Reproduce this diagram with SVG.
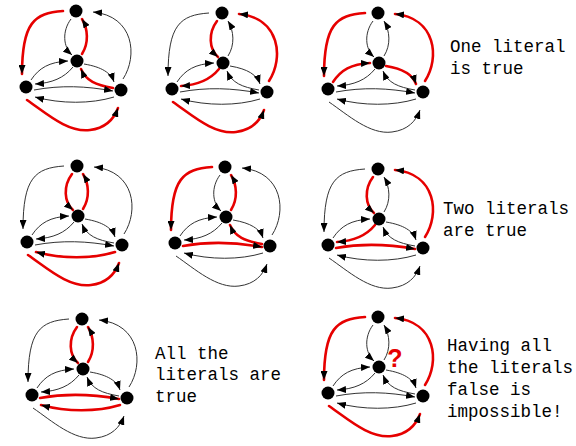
<svg xmlns="http://www.w3.org/2000/svg" width="576" height="446" viewBox="0 0 576 446">
<style>
.e{fill:none;stroke:#333;stroke-width:1;marker-end:url(#ah)}
.r{fill:none;stroke:#e60000;stroke-width:2.6;stroke-linecap:round;marker-end:url(#ah)}
.n{fill:#000}
.t{font-family:"Liberation Mono","Courier New",monospace;font-size:17.5px;fill:#000}
.q{font-family:"Liberation Sans",Arial,sans-serif;font-size:25px;font-weight:bold;fill:#e60000}
</style>
<defs>
<marker id="ah" markerUnits="userSpaceOnUse" markerWidth="9" markerHeight="7" refX="9" refY="3.5" orient="auto">
<path d="M0,0 L9,3.5 L0,7 z" fill="#000"/>
</marker>
</defs>
<rect width="576" height="446" fill="#fff"/>

<!-- Graph 1 -->
<g id="graph1" transform="translate(76,11)">
<g id="g1-edges">
<path class="r" d="M -13,0 C -42,2 -54,12 -54,63"/>
<path class="e" d="M 47,68 C 62,45 58,5 17,1"/>
<path class="e" d="M -5,8 C -14,20 -13,36 -4,44"/>
<path class="r" d="M 6,43 C 13,32 12,18 6,8"/>
<path class="e" d="M -45,69 C -37,57 -27,51 -8,50"/>
<path class="e" d="M -3,56 C -12,67 -24,72 -41,73"/>
<path class="e" d="M 8,53 C 26,56 35,62 38,71"/>
<path class="r" d="M 37,77 C 20,74 10,70 5,58"/>
<path class="e" d="M -42,79 C -15,74 10,75 37,80"/>
<path class="e" d="M 38,86 C 15,93 -15,93 -41,86"/>
<path class="r" d="M -49,89 C -30,102 -8,122 14,119 C 30,117 38,108 42,97"/>
</g>
<g id="g1-T"><circle class="n" cx="0" cy="0" r="6.5"/></g>
<g id="g1-C"><circle class="n" cx="1" cy="50" r="6.5"/></g>
<g id="g1-BL"><circle class="n" cx="-50" cy="76" r="6.5"/></g>
<g id="g1-BR"><circle class="n" cx="45" cy="79" r="6.5"/></g>
</g>

<!-- Graph 2 -->
<g id="graph2" transform="translate(222,13)">
<g id="g2-edges">
<path class="e" d="M -13,0 C -42,2 -54,12 -54,63"/>
<path class="r" d="M 47,68 C 62,45 58,5 17,1"/>
<path class="r" d="M -5,8 C -14,20 -13,36 -4,44"/>
<path class="e" d="M 6,43 C 13,32 12,18 6,8"/>
<path class="e" d="M -45,69 C -37,57 -27,51 -8,50"/>
<path class="r" d="M -3,56 C -12,67 -24,72 -41,73"/>
<path class="e" d="M 8,53 C 26,56 35,62 38,71"/>
<path class="e" d="M 37,77 C 20,74 10,70 5,58"/>
<path class="e" d="M -42,79 C -15,74 10,75 37,80"/>
<path class="e" d="M 38,86 C 15,93 -15,93 -41,86"/>
<path class="r" d="M -49,89 C -30,102 -8,122 14,119 C 30,117 38,108 42,97"/>
</g>
<g id="g2-T"><circle class="n" cx="0" cy="0" r="6.5"/></g>
<g id="g2-C"><circle class="n" cx="1" cy="50" r="6.5"/></g>
<g id="g2-BL"><circle class="n" cx="-50" cy="76" r="6.5"/></g>
<g id="g2-BR"><circle class="n" cx="45" cy="79" r="6.5"/></g>
</g>

<!-- Graph 3 -->
<g id="graph3" transform="translate(378,13)">
<g id="g3-edges">
<path class="r" d="M -13,0 C -42,2 -54,12 -54,63"/>
<path class="r" d="M 47,68 C 62,45 58,5 17,1"/>
<path class="e" d="M -5,8 C -14,20 -13,36 -4,44"/>
<path class="e" d="M 6,43 C 13,32 12,18 6,8"/>
<path class="r" d="M -45,69 C -37,57 -27,51 -8,50"/>
<path class="e" d="M -3,56 C -12,67 -24,72 -41,73"/>
<path class="r" d="M 8,53 C 26,56 35,62 38,71"/>
<path class="e" d="M 37,77 C 20,74 10,70 5,58"/>
<path class="e" d="M -42,79 C -15,74 10,75 37,80"/>
<path class="e" d="M 38,86 C 15,93 -15,93 -41,86"/>
<path class="e" d="M -49,89 C -30,102 -8,122 14,119 C 30,117 38,108 42,97"/>
</g>
<g id="g3-T"><circle class="n" cx="0" cy="0" r="6.5"/></g>
<g id="g3-C"><circle class="n" cx="1" cy="50" r="6.5"/></g>
<g id="g3-BL"><circle class="n" cx="-50" cy="76" r="6.5"/></g>
<g id="g3-BR"><circle class="n" cx="45" cy="79" r="6.5"/></g>
</g>

<!-- Graph 4 -->
<g id="graph4" transform="translate(77,166)">
<g id="g4-edges">
<path class="e" d="M -13,0 C -42,2 -54,12 -54,63"/>
<path class="e" d="M 47,68 C 62,45 58,5 17,1"/>
<path class="r" d="M -5,8 C -14,20 -13,36 -4,44"/>
<path class="r" d="M 6,43 C 13,32 12,18 6,8"/>
<path class="e" d="M -45,69 C -37,57 -27,51 -8,50"/>
<path class="e" d="M -3,56 C -12,67 -24,72 -41,73"/>
<path class="e" d="M 8,53 C 26,56 35,62 38,71"/>
<path class="e" d="M 37,77 C 20,74 10,70 5,58"/>
<path class="e" d="M -42,79 C -15,74 10,75 37,80"/>
<path class="r" d="M 38,86 C 15,93 -15,93 -41,86"/>
<path class="r" d="M -49,89 C -30,102 -8,122 14,119 C 30,117 38,108 42,97"/>
</g>
<g id="g4-T"><circle class="n" cx="0" cy="0" r="6.5"/></g>
<g id="g4-C"><circle class="n" cx="1" cy="50" r="6.5"/></g>
<g id="g4-BL"><circle class="n" cx="-50" cy="76" r="6.5"/></g>
<g id="g4-BR"><circle class="n" cx="45" cy="79" r="6.5"/></g>
</g>

<!-- Graph 5 -->
<g id="graph5" transform="translate(225,167)">
<g id="g5-edges">
<path class="r" d="M -13,0 C -42,2 -54,12 -54,63"/>
<path class="e" d="M 47,68 C 62,45 58,5 17,1"/>
<path class="e" d="M -5,8 C -14,20 -13,36 -4,44"/>
<path class="r" d="M 6,43 C 13,32 12,18 6,8"/>
<path class="e" d="M -45,69 C -37,57 -27,51 -8,50"/>
<path class="e" d="M -3,56 C -12,67 -24,72 -41,73"/>
<path class="e" d="M 8,53 C 26,56 35,62 38,71"/>
<path class="r" d="M 37,77 C 20,74 10,70 5,58"/>
<path class="r" d="M -42,79 C -15,74 10,75 37,80"/>
<path class="e" d="M 38,86 C 15,93 -15,93 -41,86"/>
<path class="e" d="M -49,89 C -30,102 -8,122 14,119 C 30,117 38,108 42,97"/>
</g>
<g id="g5-T"><circle class="n" cx="0" cy="0" r="6.5"/></g>
<g id="g5-C"><circle class="n" cx="1" cy="50" r="6.5"/></g>
<g id="g5-BL"><circle class="n" cx="-50" cy="76" r="6.5"/></g>
<g id="g5-BR"><circle class="n" cx="45" cy="79" r="6.5"/></g>
</g>

<!-- Graph 6 -->
<g id="graph6" transform="translate(378,169)">
<g id="g6-edges">
<path class="e" d="M -13,0 C -42,2 -54,12 -54,63"/>
<path class="r" d="M 47,68 C 62,45 58,5 17,1"/>
<path class="r" d="M -5,8 C -14,20 -13,36 -4,44"/>
<path class="e" d="M 6,43 C 13,32 12,18 6,8"/>
<path class="e" d="M -45,69 C -37,57 -27,51 -8,50"/>
<path class="r" d="M -3,56 C -12,67 -24,72 -41,73"/>
<path class="e" d="M 8,53 C 26,56 35,62 38,71"/>
<path class="e" d="M 37,77 C 20,74 10,70 5,58"/>
<path class="r" d="M -42,79 C -15,74 10,75 37,80"/>
<path class="e" d="M 38,86 C 15,93 -15,93 -41,86"/>
<path class="e" d="M -49,89 C -30,102 -8,122 14,119 C 30,117 38,108 42,97"/>
</g>
<g id="g6-T"><circle class="n" cx="0" cy="0" r="6.5"/></g>
<g id="g6-C"><circle class="n" cx="1" cy="50" r="6.5"/></g>
<g id="g6-BL"><circle class="n" cx="-50" cy="76" r="6.5"/></g>
<g id="g6-BR"><circle class="n" cx="45" cy="79" r="6.5"/></g>
</g>

<!-- Graph 7 -->
<g id="graph7" transform="translate(82,319)">
<g id="g7-edges">
<path class="e" d="M -13,0 C -42,2 -54,12 -54,63"/>
<path class="e" d="M 47,68 C 62,45 58,5 17,1"/>
<path class="r" d="M -5,8 C -14,20 -13,36 -4,44"/>
<path class="r" d="M 6,43 C 13,32 12,18 6,8"/>
<path class="e" d="M -45,69 C -37,57 -27,51 -8,50"/>
<path class="e" d="M -3,56 C -12,67 -24,72 -41,73"/>
<path class="e" d="M 8,53 C 26,56 35,62 38,71"/>
<path class="e" d="M 37,77 C 20,74 10,70 5,58"/>
<path class="r" d="M -42,79 C -15,74 10,75 37,80"/>
<path class="r" d="M 38,86 C 15,93 -15,93 -41,86"/>
<path class="e" d="M -49,89 C -30,102 -8,122 14,119 C 30,117 38,108 42,97"/>
</g>
<g id="g7-T"><circle class="n" cx="0" cy="0" r="6.5"/></g>
<g id="g7-C"><circle class="n" cx="1" cy="50" r="6.5"/></g>
<g id="g7-BL"><circle class="n" cx="-50" cy="76" r="6.5"/></g>
<g id="g7-BR"><circle class="n" cx="45" cy="79" r="6.5"/></g>
</g>

<!-- Graph 8 -->
<g id="graph8" transform="translate(378,317)">
<g id="g8-edges">
<path class="r" d="M -13,0 C -42,2 -54,12 -54,63"/>
<path class="r" d="M 47,68 C 62,45 58,5 17,1"/>
<path class="e" d="M -5,8 C -14,20 -13,36 -4,44"/>
<path class="e" d="M 6,43 C 13,32 12,18 6,8"/>
<path class="e" d="M -45,69 C -37,57 -27,51 -8,50"/>
<path class="e" d="M -3,56 C -12,67 -24,72 -41,73"/>
<path class="e" d="M 8,53 C 26,56 35,62 38,71"/>
<path class="e" d="M 37,77 C 20,74 10,70 5,58"/>
<path class="e" d="M -42,79 C -15,74 10,75 37,80"/>
<path class="e" d="M 38,86 C 15,93 -15,93 -41,86"/>
<path class="r" d="M -49,89 C -30,102 -8,122 14,119 C 30,117 38,108 42,97"/>
</g>
<g id="g8-T"><circle class="n" cx="0" cy="0" r="6.5"/></g>
<g id="g8-C"><circle class="n" cx="1" cy="50" r="6.5"/></g>
<g id="g8-BL"><circle class="n" cx="-50" cy="76" r="6.5"/></g>
<g id="g8-BR"><circle class="n" cx="45" cy="79" r="6.5"/></g>
<text class="q" x="17" y="50" text-anchor="middle">?</text>
</g>

<!-- Captions -->
<g id="captions">
<text class="t" x="450" y="52">One literal</text>
<text class="t" x="450" y="74">is true</text>
<text class="t" x="443" y="214">Two literals</text>
<text class="t" x="443" y="236">are true</text>
<text class="t" x="155" y="359">All the</text>
<text class="t" x="155" y="380">literals are</text>
<text class="t" x="155" y="402">true</text>
<text class="t" x="447" y="351">Having all</text>
<text class="t" x="447" y="373">the literals</text>
<text class="t" x="447" y="395">false is</text>
<text class="t" x="447" y="417">impossible!</text>
</g>
</svg>
